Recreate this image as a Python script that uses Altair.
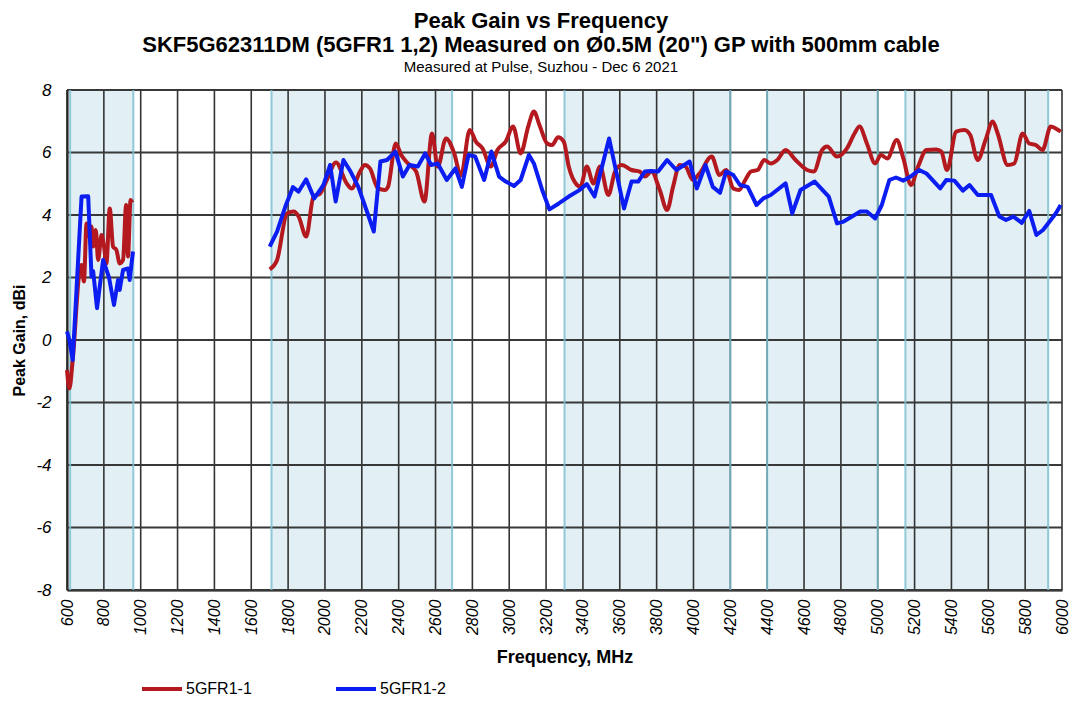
import altair as alt
import pandas as pd

TITLE = ["Peak Gain vs Frequency",
         "SKF5G62311DM (5GFR1 1,2) Measured on \u00d80.5M (20\") GP with 500mm cable"]
SUBTITLE = "Measured at Pulse,  Suzhou - Dec 6 2021"
SERIES = ["5GFR1-1", "5GFR1-2"]
COLORS = ["#B3191E", "#0C1DF2"]

X_TICKS = list(range(600, 6001, 200))
Y_TICKS = list(range(-8, 9, 2))
BAND_START = [617, 1710, 3300, 4400, 5150]
BAND_END = [960, 2690, 4200, 5000, 5925]

# 5GFR1-1 (red), low band
red_lo_f = [600, 613, 631, 670, 679, 692, 706, 720, 733, 742, 756, 769, 787, 801, 814,
            832, 850, 868, 886, 904, 921, 931, 945, 954]
red_lo_v = [-0.96, -1.55, -0.64, 2.29, 2.4, 1.87, 3.73, 3.31, 3.63, 2.99, 3.52, 2.56, 3.36, 2.99, 2.45,
            4.21, 2.99, 2.88, 2.45, 2.56, 4.32, 2.67, 4.48, 4.4]
# 5GFR1-1 (red), high band
red_hi_f = [1700, 1740, 1794, 1830, 1857, 1898, 1938, 1974, 2010, 2060, 2118, 2145, 2190, 2217, 2244,
            2288, 2325, 2342, 2384, 2414, 2450, 2495, 2540, 2581, 2612, 2657, 2700, 2738, 2786, 2819,
            2855, 2900, 2936, 2981, 3021, 3062, 3103, 3134, 3164, 3206, 3233, 3265, 3296, 3323, 3368,
            3386, 3421, 3457, 3493, 3538, 3574, 3610, 3664, 3709, 3736, 3772, 3817, 3857, 3889, 3925,
            3957, 3997, 4033, 4099, 4141, 4177, 4216, 4248, 4281, 4312, 4348, 4384, 4419, 4455, 4500,
            4554, 4617, 4653, 4698, 4725, 4779, 4833, 4874, 4901, 4941, 4986, 5017, 5052, 5103, 5139,
            5180, 5219, 5264, 5318, 5345, 5376, 5426, 5471, 5502, 5543, 5585, 5624, 5651, 5705, 5741,
            5786, 5822, 5858, 5894, 5939, 5966, 5993]
red_hi_v = [2.26, 2.56, 4.05, 4.11, 3.95, 3.31, 4.59, 4.69, 5.12, 5.68, 5.01, 4.85, 5.39, 5.6, 5.49,
            4.85, 4.8, 4.9, 6.29, 5.92, 5.65, 5.39, 4.43, 6.61, 5.55, 6.45, 6.0, 5.26, 6.72, 6.35,
            6.13, 5.55, 6.08, 6.35, 6.83, 5.97, 6.83, 7.31, 6.88, 6.29, 6.24, 6.49, 6.35, 5.55, 4.96,
            4.9, 5.55, 5.01, 5.55, 4.64, 5.39, 5.6, 5.44, 5.39, 5.23, 5.39, 4.8, 4.16, 4.9, 5.6,
            5.55, 5.12, 5.33, 5.87, 5.28, 5.44, 4.85, 4.8, 5.12, 5.39, 5.44, 5.76, 5.65, 5.76, 6.08,
            5.76, 5.44, 5.39, 6.08, 6.19, 5.87, 6.13, 6.61, 6.83, 6.29, 5.65, 5.92, 5.81, 6.4, 5.81,
            4.96, 5.55, 6.08, 6.1, 6.03, 5.44, 6.67, 6.72, 6.56, 5.76, 6.4, 6.99, 6.61, 5.6, 5.65,
            6.61, 6.29, 6.24, 6.08, 6.83, 6.77, 6.67]

# 5GFR1-2 (blue), low band
blue_lo_f = [600, 613, 631, 679, 715, 733, 742, 763, 796, 828, 855, 877, 886, 904, 931, 940, 958]
blue_lo_v = [0.27, 0.0, -0.64, 4.59, 4.6, 2.03, 2.2, 1.02, 2.56, 2.0, 1.12, 1.92, 1.6, 2.24, 2.29, 1.92, 2.83]
# 5GFR1-2 (blue), high band
blue_hi_f = [1700, 1740, 1785, 1826, 1857, 1898, 1942, 1992, 2028, 2058, 2100, 2139, 2181, 2225, 2265,
             2301, 2337, 2382, 2423, 2459, 2504, 2544, 2576, 2612, 2661, 2708, 2743, 2779, 2815, 2864,
             2903, 2945, 2981, 3026, 3062, 3107, 3134, 3179, 3218, 3269, 3323, 3377, 3421, 3463, 3542,
             3623, 3664, 3700, 3736, 3768, 3808, 3857, 3907, 3979, 4018, 4065, 4105, 4144, 4177, 4216,
             4252, 4294, 4342, 4379, 4419, 4500, 4536, 4581, 4658, 4734, 4779, 4815, 4874, 4905, 4941,
             4986, 5022, 5063, 5099, 5139, 5178, 5225, 5264, 5339, 5372, 5416, 5462, 5498, 5543, 5615,
             5660, 5696, 5736, 5782, 5822, 5861, 5897, 5939, 5966, 5993]
blue_hi_v = [2.99, 3.47, 4.27, 4.89, 4.75, 5.14, 4.53, 4.96, 5.6, 4.43, 5.76, 5.39, 4.9, 4.16, 3.47,
             5.71, 5.76, 6.03, 5.23, 5.6, 5.55, 5.97, 5.6, 5.65, 5.12, 5.49, 4.9, 5.92, 5.87, 5.12,
             6.03, 5.23, 5.07, 4.93, 5.12, 5.92, 5.65, 4.8, 4.18, 4.37, 4.59, 4.78, 4.99, 4.59, 6.45,
             4.21, 5.07, 5.07, 5.39, 5.41, 5.39, 5.76, 5.44, 5.71, 4.85, 5.6, 4.9, 4.71, 5.39, 5.28,
             4.96, 4.9, 4.32, 4.53, 4.64, 5.01, 4.05, 4.8, 5.07, 4.59, 3.73, 3.79, 4.0, 4.11, 4.11,
             3.89, 4.32, 5.12, 5.2, 5.1, 5.23, 5.44, 5.33, 4.85, 5.12, 5.1, 4.78, 4.96, 4.64, 4.64,
             3.95, 3.84, 3.95, 3.75, 4.13, 3.36, 3.52, 3.84, 4.05, 4.32]


def seg(freqs, vals, series, segment):
    return pd.DataFrame({"freq": freqs, "gain": vals, "series": series, "segment": segment})


red_df = pd.concat([seg(red_lo_f, red_lo_v, SERIES[0], "lo"), seg(red_hi_f, red_hi_v, SERIES[0], "hi")])
blue_df = pd.concat([seg(blue_lo_f, blue_lo_v, SERIES[1], "lo"), seg(blue_hi_f, blue_hi_v, SERIES[1], "hi")])
bands_df = pd.DataFrame({"start": BAND_START, "end": BAND_END})
edges_df = pd.DataFrame({"edge": BAND_START + BAND_END})
vgrid_df = pd.DataFrame({"f": X_TICKS})
hgrid_df = pd.DataFrame({"g": Y_TICKS})

FONT = "Liberation Sans"
xs = alt.Scale(domain=[600, 6000], nice=False, zero=False)
ys = alt.Scale(domain=[-8, 8], nice=False, zero=False)
xaxis = alt.Axis(values=X_TICKS, labelExpr="'' + datum.value", title="Frequency, MHz")
yaxis = alt.Axis(values=Y_TICKS, labelExpr="'' + datum.value", title="Peak Gain, dBi")


def X(field):
    return alt.X(field, type="quantitative", scale=xs, axis=xaxis)


def Y(field):
    return alt.Y(field, type="quantitative", scale=ys, axis=yaxis)


bands = alt.Chart(bands_df).mark_rect(color="#E2F0F5").encode(
    x=X("start"), x2="end",
    y=alt.YDatum(-8, type="quantitative", scale=ys, axis=yaxis),
    y2=alt.Y2Datum(8),
)

vgrid = alt.Chart(vgrid_df).mark_rule(color="#333333", strokeWidth=1.6).encode(
    x=X("f"),
    y=alt.YDatum(-8, type="quantitative", scale=ys, axis=yaxis),
    y2=alt.Y2Datum(8),
)

hgrid = alt.Chart(hgrid_df).mark_rule(color="#383838", strokeWidth=1.8).encode(
    y=Y("g"),
    x=alt.XDatum(600, type="quantitative", scale=xs, axis=xaxis),
    x2=alt.X2Datum(6000),
)

edges = alt.Chart(edges_df).mark_rule(color="#7FC0CF", strokeWidth=2, opacity=0.85).encode(
    x=X("edge"),
    y=alt.YDatum(-8, type="quantitative", scale=ys, axis=yaxis),
    y2=alt.Y2Datum(8),
)

color = alt.Color(
    "series:N",
    scale=alt.Scale(domain=SERIES, range=COLORS),
    legend=alt.Legend(
        title=None, orient="none", legendX=73, legendY=577, direction="horizontal",
        symbolType="stroke", symbolSize=1600, symbolStrokeWidth=4,
        labelFont=FONT, labelFontSize=16, labelColor="#000000", labelOffset=2,
        columnPadding=76, padding=0,
    ),
)

red = alt.Chart(red_df).mark_line(strokeWidth=4, interpolate="monotone", strokeJoin="round").encode(
    x=X("freq"), y=Y("gain"), color=color, detail="segment:N",
)

blue = alt.Chart(blue_df).mark_line(strokeWidth=4, strokeJoin="round").encode(
    x=X("freq"), y=Y("gain"), color=color, detail="segment:N",
)

chart = alt.layer(bands, vgrid, hgrid, edges, red, blue).properties(
    width=995,
    height=500,
    autosize=alt.AutoSizeParams(type="none"),
    padding={"left": 59, "top": 82, "right": 8, "bottom": 106},
    title=alt.TitleParams(
        text=TITLE, subtitle=SUBTITLE, anchor="middle", frame="bounds",
        font=FONT, fontSize=22, fontWeight="bold", lineHeight=24, color="#000000",
        subtitleFont=FONT, subtitleFontSize=15, subtitleColor="#000000", subtitlePadding=3,
        offset=5,
    ),
).configure_view(stroke=None).configure_axisX(
    labelAngle=270, labelAlign="right", labelBaseline="middle",
    labelFont=FONT, labelFontStyle="italic", labelFontSize=16, labelColor="#000000",
    labelPadding=9, labelFlush=False, labelOverlap=False, ticks=False,
    domainColor="#000000", domainWidth=2, grid=False, zindex=1,
    titleFont=FONT, titleFontSize=18, titleFontWeight="bold", titleColor="#000000", titlePadding=14,
).configure_axisY(
    labelFont=FONT, labelFontStyle="italic", labelFontSize=17, labelColor="#000000",
    labelPadding=16, ticks=False, domainColor="#000000", domainWidth=2, grid=False, zindex=1,
    titleFont=FONT, titleFontSize=16, titleFontWeight="bold", titleColor="#000000", titlePadding=8,
)

chart.save("out.html", embed_options={"renderer": "svg", "actions": False})
